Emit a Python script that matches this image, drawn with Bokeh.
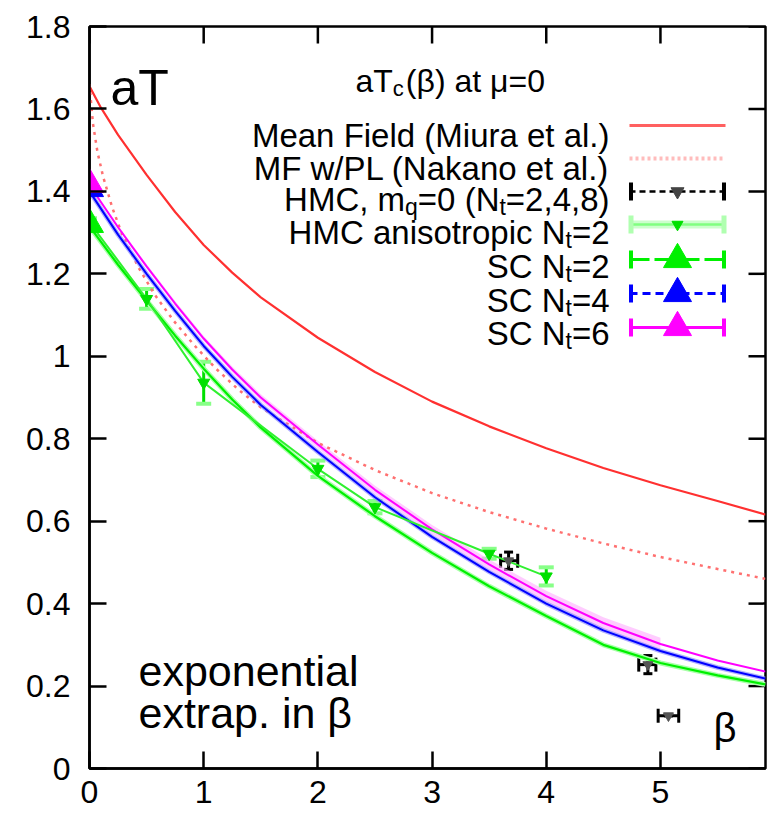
from bokeh.plotting import figure
from bokeh.models import Range1d, FixedTicker, ColumnDataSource, Whisker, TeeHead
from bokeh.core.properties import value
from bokeh.embed import file_html
from bokeh.resources import INLINE

# ---------------- data ----------------
beta_grid = [0, 0.25, 0.5, 0.75, 1.0, 1.25, 1.5, 2.0, 2.5, 3.0, 3.5, 4.0, 4.5, 5.0, 5.5, 5.92]

mf_beta = [0, 0.1, 0.25, 0.5, 0.75, 1.0, 1.25, 1.5, 2.0, 2.5, 3.0, 3.5, 4.0, 4.5, 5.0, 5.5, 5.92]
mf_miura = [1.655, 1.603, 1.537, 1.44, 1.35, 1.27, 1.203, 1.143, 1.045, 0.962, 0.89, 0.83, 0.777, 0.729, 0.687, 0.649, 0.616]

mfpl_beta = [0, 0.03, 0.07, 0.12, 0.2, 0.28, 0.43, 0.57, 0.74, 0.92, 1.1, 1.3, 1.5, 2.0, 2.5, 3.0, 3.5, 4.0, 4.5, 5.0, 5.5, 5.92]
mfpl_nakano = [1.66, 1.565, 1.495, 1.435, 1.36, 1.30, 1.215, 1.15, 1.085, 1.026, 0.972, 0.92, 0.876, 0.79, 0.724,
               0.668, 0.622, 0.582, 0.546, 0.513, 0.484, 0.46]

sc_nt2 = [1.315, 1.222, 1.135, 1.05, 0.97, 0.895, 0.827, 0.71, 0.612, 0.523, 0.442, 0.37, 0.30, 0.256, 0.226, 0.204]
sc_nt4 = [1.40, 1.295, 1.20, 1.11, 1.025, 0.95, 0.882, 0.768, 0.658, 0.562, 0.477, 0.40, 0.335, 0.285, 0.245, 0.218]
sc_nt6 = [1.415, 1.313, 1.218, 1.128, 1.043, 0.968, 0.90, 0.786, 0.676, 0.58, 0.495, 0.418, 0.353, 0.302, 0.262, 0.235]
sc_nt6_band_beta = [0, 0.25, 0.5, 0.75, 1.0, 1.25, 1.5, 2.0, 2.5, 3.0, 3.5, 4.0, 4.5, 5.0]
sc_nt6_halfwidth = [0.004, 0.005, 0.005, 0.006, 0.006, 0.007, 0.008, 0.009, 0.010, 0.011, 0.012, 0.013, 0.014, 0.015]

sc_beta0 = [0.0]
sc_nt2_at0 = [1.32]
sc_nt4_at0 = [1.407]
sc_nt6_at0 = [1.417]

hmc_aniso_beta = [0.0, 0.5, 1.0, 2.0, 2.5, 3.5, 4.0]
hmc_aniso_tc = [1.325, 1.139, 0.936, 0.727, 0.634, 0.521, 0.466]
hmc_aniso_err = [0.01, 0.024, 0.051, 0.02, 0.015, 0.012, 0.022]

hmc_m0_beta = [3.67, 4.89, 5.07]
hmc_m0_tc = [0.504, 0.252, 0.128]
hmc_m0_yerr = [0.021, 0.022, 0.0]
hmc_m0_blo = [3.60, 4.81, 4.98]
hmc_m0_bhi = [3.75, 4.96, 5.16]

x_ticks = [0, 1, 2, 3, 4, 5]
y_ticks = [0, 0.2, 0.4, 0.6, 0.8, 1, 1.2, 1.4, 1.6, 1.8]
y_tick_labels = ["0", "0.2", "0.4", "0.6", "0.8", "1", "1.2", "1.4", "1.6", "1.8"]

# ---------------- layout ----------------
XMAX, YMAX = 5.92, 1.8
FW, FH = 676, 742
LEFT, TOP = 89, 26
FONT = "Liberation Sans"
TICK_LEN = 17


def sx(px):
    return (px - LEFT) * XMAX / FW


def sy(py):
    return (TOP + FH - py) * YMAX / FH


p = figure(frame_width=FW, frame_height=FH, x_range=Range1d(0, XMAX), y_range=Range1d(0, YMAX),
           output_backend="svg", toolbar_location=None,
           min_border_left=LEFT, min_border_right=7, min_border_top=TOP, min_border_bottom=48)
p.background_fill_color = "white"
p.border_fill_color = "white"
p.grid.visible = False
p.outline_line_color = "black"
p.outline_line_width = 2.5

for ax, ticks in ((p.xaxis[0], x_ticks), (p.yaxis[0], y_ticks)):
    ax.ticker = FixedTicker(ticks=ticks)
    ax.major_tick_in = TICK_LEN
    ax.major_tick_out = 0
    ax.minor_tick_line_color = None
    ax.major_tick_line_width = 2.5
    ax.axis_line_width = 2.5
    ax.major_label_text_font = FONT
    ax.major_label_text_font_size = "32px"
    ax.major_label_text_color = "black"
p.xaxis[0].major_label_standoff = 12
p.yaxis[0].major_label_standoff = 19
p.yaxis[0].major_label_overrides = {t: l for t, l in zip(y_ticks, y_tick_labels)}

# mirrored ticks on the top and right frame edges
dy_tick = TICK_LEN * YMAX / FH
dx_tick = TICK_LEN * XMAX / FW
p.segment(x0=x_ticks, y0=[YMAX] * len(x_ticks), x1=x_ticks, y1=[YMAX - dy_tick] * len(x_ticks),
          line_color="black", line_width=2.5)
p.segment(x0=[XMAX] * len(y_ticks), y0=y_ticks, x1=[XMAX - dx_tick] * len(y_ticks), y1=y_ticks,
          line_color="black", line_width=2.5)

# ---------------- curves ----------------
band_lo = [v - h for v, h in zip(sc_nt6[:len(sc_nt6_band_beta)], sc_nt6_halfwidth)]
band_hi = [v + h for v, h in zip(sc_nt6[:len(sc_nt6_band_beta)], sc_nt6_halfwidth)]
p.varea(x=sc_nt6_band_beta, y1=band_lo, y2=band_hi, fill_color="#ffaaff", fill_alpha=0.6)

p.line(mf_beta, mf_miura, line_color="#ff3030", line_width=2.2)
p.line(mfpl_beta, mfpl_nakano, line_color="#ff7070", line_width=2.5, line_dash="3 5")

p.line(beta_grid, sc_nt2, line_color="#a8ffa8", line_width=5)
p.line(beta_grid, sc_nt2, line_color="#00f000", line_width=2.2)
p.line(beta_grid, sc_nt4, line_color="#9090ff", line_width=4.5, line_alpha=0.7)
p.line(beta_grid, sc_nt4, line_color="#0000ff", line_width=2)
p.line(beta_grid, sc_nt6, line_color="#ff00ff", line_width=2)

# HMC anisotropic Nt=2
p.line(hmc_aniso_beta, hmc_aniso_tc, line_color="#30f030", line_width=2)
src_a = ColumnDataSource(dict(x=hmc_aniso_beta, y=hmc_aniso_tc,
                              lo=[v - e for v, e in zip(hmc_aniso_tc, hmc_aniso_err)],
                              hi=[v + e for v, e in zip(hmc_aniso_tc, hmc_aniso_err)]))
p.add_layout(Whisker(source=src_a, base="x", lower="lo", upper="hi", line_color="#00e000", line_width=3,
                     upper_head=TeeHead(size=15, line_color="#88ff88", line_width=4),
                     lower_head=TeeHead(size=15, line_color="#88ff88", line_width=4)))
p.scatter("x", "y", source=src_a, marker="inverted_triangle", size=12, fill_color="#00e000", line_color="#00e000")

# HMC mq=0 (Nt=2,4,8)
src_h = ColumnDataSource(dict(x=hmc_m0_beta, y=hmc_m0_tc,
                              ylo=[v - e for v, e in zip(hmc_m0_tc, hmc_m0_yerr)],
                              yhi=[v + e for v, e in zip(hmc_m0_tc, hmc_m0_yerr)],
                              xlo=hmc_m0_blo, xhi=hmc_m0_bhi))
p.add_layout(Whisker(source=src_h, base="x", lower="ylo", upper="yhi", line_color="black", line_width=3,
                     upper_head=TeeHead(size=9, line_color="black", line_width=3),
                     lower_head=TeeHead(size=9, line_color="black", line_width=3)))
p.add_layout(Whisker(source=src_h, base="y", lower="xlo", upper="xhi", dimension="width", line_color="black",
                     line_width=3,
                     upper_head=TeeHead(size=14, line_color="black", line_width=3),
                     lower_head=TeeHead(size=14, line_color="black", line_width=3)))
p.scatter("x", "y", source=src_h, marker="inverted_triangle", size=10, fill_color="#555555", line_color="#555555")

# SC points at beta = 0
p.scatter(sc_beta0, sc_nt2_at0, marker="triangle", size=28, fill_color="#00f000", line_color="#00f000")
p.scatter(sc_beta0, sc_nt4_at0, marker="triangle", size=28, fill_color="#0000ff", line_color="#0000ff")
p.scatter(sc_beta0, sc_nt6_at0, marker="triangle", size=28, fill_color="#ff00ff", line_color="#ff00ff")

# ---------------- texts ----------------
CW = {" ": 278, "(": 333, ")": 333, ",": 278, ".": 278, "=": 584, "/": 278,
      "A": 667, "C": 722, "F": 611, "H": 722, "L": 556, "M": 833, "N": 722, "P": 667, "S": 667, "T": 611,
      "a": 556, "c": 500, "d": 556, "e": 556, "h": 556, "i": 222, "k": 500, "l": 222, "m": 833, "n": 556,
      "o": 556, "p": 556, "q": 556, "r": 333, "s": 500, "t": 278, "u": 556, "w": 722, "x": 500,
      "\u03b2": 575, "\u03bc": 576}


def tw(s, fs):
    return sum(CW.get(ch, 556) for ch in s) * fs / 1000.0


def put(txt, xpx, base_px, fs, align="left", color="black"):
    p.text(x=[sx(xpx)], y=[sy(base_px)], text=[txt], text_font=value(FONT), text_font_size=f"{fs}px",
           text_align=align, text_baseline="alphabetic", text_color=color)


put("aT", 110, 87, 50)

# title aT_c(beta) at mu=0
TFS, SFS = 32, 22
xx = 355
put("aT", xx, 80, TFS)
xx += tw("aT", TFS)
put("c", xx, 88, SFS)
xx += tw("c", SFS) + 2
put("(\u03b2) at \u03bc=0", xx, 80, TFS)

put("exponential", 138, 670, 43)
put("extrap. in \u03b2", 138, 712, 43)
put("\u03b2", 713, 727, 40)

# legend (text on the left, sample on the right, as in gnuplot)
LFS, LSUB = 33, 23
LEG_RIGHT = 609
S0, S1 = 629, 725
SC = (S0 + S1) / 2
legend_rows = [
    ([("Mean Field (Miura et al.)", False)], 125, 135),
    ([("MF w/PL (Nakano et al.)", False)], 158, 168),
    ([("HMC, m", False), ("q", True), ("=0 (N", False), ("t", True), ("=2,4,8)", False)], 191, 199),
    ([("HMC anisotropic N", False), ("t", True), ("=2", False)], 224, 232),
    ([("SC N", False), ("t", True), ("=2", False)], 259, 266),
    ([("SC N", False), ("t", True), ("=4", False)], 293, 300),
    ([("SC N", False), ("t", True), ("=6", False)], 327, 333),
]
for pieces, ry, base in legend_rows:
    total = sum(tw(t, LSUB if sub else LFS) for t, sub in pieces)
    xpx = LEG_RIGHT - total
    for t, sub in pieces:
        fs = LSUB if sub else LFS
        put(t, xpx, base + (7 if sub else 0), fs)
        xpx += tw(t, fs)

rows_y = [r[1] for r in legend_rows]


def leg_line(ry, color, width, dash="solid", alpha=1.0):
    p.line([sx(S0), sx(S1)], [sy(ry), sy(ry)], line_color=color, line_width=width, line_dash=dash, line_alpha=alpha)


def leg_caps(ry, color, width=4):
    for cx in (S0 + 1.5, S1 - 1.5):
        p.line([sx(cx), sx(cx)], [sy(ry - 9), sy(ry + 9)], line_color=color, line_width=width)


leg_line(rows_y[0], "#ff6060", 3)
leg_line(rows_y[1], "#ffbcbc", 4, "3 3")
leg_line(rows_y[2], "black", 2.5, "6 4")
leg_caps(rows_y[2], "black")
p.scatter([sx(SC)], [sy(rows_y[2])], marker="inverted_triangle", size=13, fill_color="#444444", line_color="#444444")
leg_line(rows_y[3], "#ccffcc", 8)
leg_line(rows_y[3], "#80ff80", 2.5)
leg_caps(rows_y[3], "#b0ffb0", 5)
p.scatter([sx(SC)], [sy(rows_y[3])], marker="inverted_triangle", size=11, fill_color="#00e000", line_color="#00e000")
leg_line(rows_y[4], "#00f000", 3, "20 5")
leg_caps(rows_y[4], "#00f000")
p.scatter([sx(SC)], [sy(rows_y[4])], marker="triangle", size=28, fill_color="#00f000", line_color="#00f000")
leg_line(rows_y[5], "#0000ff", 3, "8 5")
leg_caps(rows_y[5], "#0000ff")
p.scatter([sx(SC)], [sy(rows_y[5])], marker="triangle", size=28, fill_color="#0000ff", line_color="#0000ff")
leg_line(rows_y[6], "#ff00ff", 3)
leg_caps(rows_y[6], "#ff00ff")
p.scatter([sx(SC)], [sy(rows_y[6])], marker="triangle", size=28, fill_color="#ff00ff", line_color="#ff00ff")

open("out.html", "w").write(file_html(p, INLINE))
